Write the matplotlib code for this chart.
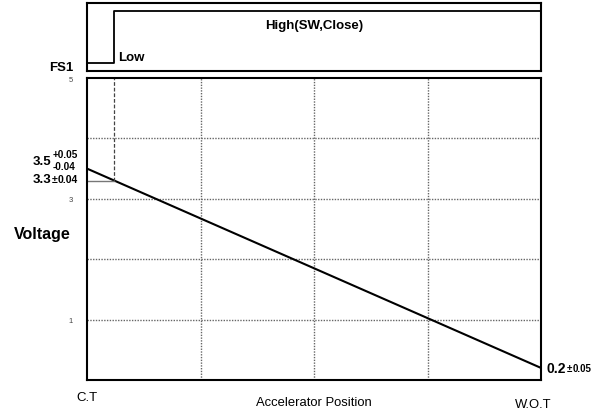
"""
Curva de voltaje del sensor de posicion del acelerador con la senal FS1
"""

import matplotlib
matplotlib.use('Agg')
import matplotlib.pyplot as plt

plt.rcParams['font.family'] = ['Liberation Sans', 'DejaVu Sans']

# datos
pos = [0, 4]                 # C.T -> W.O.T
voltage = [3.5, 0.2]
fs1_x = [0, 0.24, 0.24, 4]   # cambio Low -> High
fs1_y = [0.12, 0.12, 0.88, 0.88]
sw_pos = 0.24
sw_volt = 3.3
y_ticks = [1, 3, 5]
grid_y = [1, 2, 3, 4]
grid_x = [1, 2, 3]

W, H = 595, 414
fig = plt.figure(figsize=(W / 100, H / 100), dpi=100)


def box(l, t, r, b):
    return [l / W, 1 - b / H, (r - l) / W, (b - t) / H]


# panel superior FS1
ax0 = fig.add_axes(box(87, 4, 541, 72))
ax0.plot(fs1_x, fs1_y, color='black', linewidth=1.3)
ax0.set_xlim(0, 4)
ax0.set_ylim(0, 1)
ax0.set_xticks([])
ax0.set_yticks([])
for s in ax0.spines.values():
    s.set_linewidth(1.5)
ax0.text(0.27, 0.12, 'Low', fontsize=9.5, fontweight='bold', va='bottom', ha='left')
ax0.text(2.0, 0.68, 'High(SW,Close)', fontsize=9.5, fontweight='bold', ha='center', va='center')
ax0.text(-0.12, 0.06, 'FS1', fontsize=9.5, fontweight='bold', ha='right', va='center')

# panel principal
ax = fig.add_axes(box(87, 79, 541, 381))
ax.set_xlim(0, 4)
ax.set_ylim(0, 5)
for g in grid_y:
    ax.axhline(g, color='#666666', linestyle=(0, (1, 1)), linewidth=1.0)
for g in grid_x:
    ax.axvline(g, color='#666666', linestyle=(0, (1, 1)), linewidth=1.0)
ax.plot(pos, voltage, color='black', linewidth=1.5)
ax.plot([0, sw_pos], [sw_volt, sw_volt], color='#777777', linewidth=1.0)
ax.plot([sw_pos, sw_pos], [sw_volt, 5], color='#444444', linestyle=(0, (3, 1.5)), linewidth=0.9)
ax.set_xticks([])
ax.set_yticks(y_ticks)
ax.set_yticklabels([str(t) for t in y_ticks], fontsize=5.5, color='#444444')
ax.tick_params(axis='y', length=0, pad=10)
for s in ax.spines.values():
    s.set_linewidth(1.5)

# etiquetas de tolerancia
ax.text(-0.48, 3.63, '3.5', fontsize=9.5, fontweight='bold', ha='left', va='center')
ax.text(-0.3, 3.74, '+0.05', fontsize=7.2, fontweight='bold', ha='left', va='center')
ax.text(-0.3, 3.55, '-0.04', fontsize=7.2, fontweight='bold', ha='left', va='center')
ax.text(-0.48, 3.33, '3.3', fontsize=9.5, fontweight='bold', ha='left', va='center')
ax.text(-0.31, 3.33, '±', fontsize=7.5, fontweight='bold', ha='left', va='center')
ax.text(-0.255, 3.33, '0.04', fontsize=7.5, fontweight='bold', ha='left', va='center')
ax.text(4.05, 0.2, '0.2', fontsize=10, fontweight='bold', ha='left', va='center')
ax.text(4.225, 0.2, '±', fontsize=7, fontweight='bold', ha='left', va='center')
ax.text(4.28, 0.2, '0.05', fontsize=7, fontweight='bold', ha='left', va='center')

ax.text(-0.64, 2.42, 'Voltage', fontsize=11.5, fontweight='bold', ha='left', va='center')
ax.text(0.0, -0.28, 'C.T', fontsize=9.5, ha='center', va='center')
ax.text(2.0, -0.36, 'Accelerator Position', fontsize=9.4, ha='center', va='center')
ax.text(3.93, -0.40, 'W.O.T', fontsize=9.4, ha='center', va='center')

fig.savefig('out.png', dpi=100)
